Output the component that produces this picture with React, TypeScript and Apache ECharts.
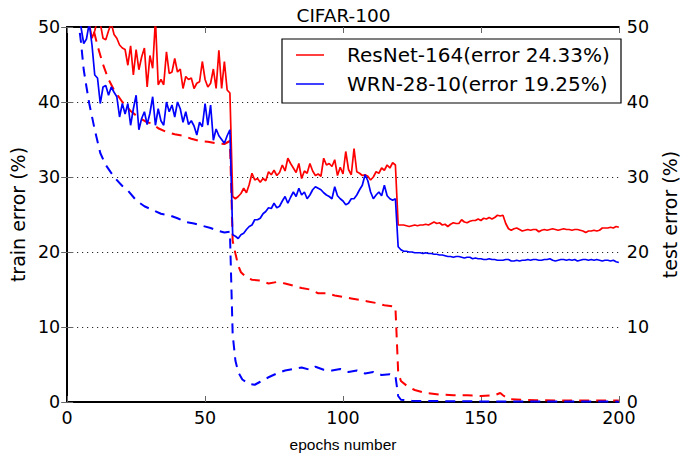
import React, { useEffect, useRef } from "react";
import * as echarts from "echarts";

const chartTitle = "CIFAR-100";
const xAxisName = "epochs number";
const leftAxisName = "train error (%)";
const rightAxisName = "test error (%)";
const legendNames = ["ResNet-164(error 24.33%)", "WRN-28-10(error 19.25%)"];

// test error per epoch (epochs 1..200)
const resnetTest = [
  62, 60, 58, 56, 54, 53, 51.5, 50.5, 48.5, 49.5,
  51, 50.5, 48.5, 48.3, 49.5, 50.5, 49, 48.5, 47.6, 47.2,
  47, 44.9, 47.5, 43.6, 47, 44.3, 46, 47.2, 42, 46.2,
  44.5, 51, 42.3, 43, 42.3, 46.7, 43.8, 44, 45.8, 44,
  44.4, 41.8, 43.4, 43, 43.2, 41.8, 42.5, 42.7, 45.4, 43,
  42, 42.5, 44.4, 41.8, 46.9, 41.8, 45.4, 41.6, 41.2, 27.4,
  27.1, 27.4, 27.8, 28.5, 27.9, 29, 30.5, 29.6, 29.8, 29.3,
  29.8, 29.5, 30.7, 30.3, 30.9, 30.2, 30.6, 31.6, 30.8, 32.5,
  31.8, 31.2, 30.6, 31.8, 29.8, 30.8, 30.5, 31.8, 30.8, 30.2,
  30.4, 30.1, 32.5, 31.6, 31.8, 31.4, 32.3, 30.2, 31.3, 30.4,
  33.4, 31, 30.3, 33.8, 30.7, 30.5, 30.2, 30.3, 30.1, 29.6,
  30.0, 30.7, 30.5, 31.2, 30.9, 31.6, 31.2, 31.9, 31.6, 23.6,
  23.6, 23.6, 23.5, 23.4, 23.5, 23.6, 23.5, 23.6, 23.6, 23.7,
  23.6, 23.8, 24.0, 23.8, 23.9, 23.6, 23.7, 23.4, 23.7, 23.9,
  23.8, 23.8, 24.3, 24.0, 23.9, 24.1, 24.2, 24.2, 24.4, 24.2,
  24.5, 24.4, 24.6, 24.4, 24.6, 24.9, 24.8, 24.9, 23.8, 23.1,
  22.9, 23.1, 23.2, 23.0, 22.8, 22.9, 23.0, 22.9, 23.0, 23.0,
  22.7, 22.9, 23.0, 22.9, 23.0, 23.1, 23.0, 22.9, 23.0, 23.1,
  23.0, 23.0, 22.9, 23.0, 23.0, 22.9, 22.8, 22.6, 22.8, 22.8,
  22.9, 22.8, 22.9, 23.2, 23.2, 23.2, 23.3, 23.2, 23.4, 23.3,
];

const wrnTest = [
  65, 60, 56, 52, 50, 47.8, 48.4, 50.5, 47.6, 43.6,
  43.2, 39.8, 42, 42.2, 40.9, 42, 41.3, 40.7, 38, 39.8,
  38.4, 39.8, 36.9, 39.1, 40.9, 36.3, 37.8, 38.7, 37, 38.5,
  40.7, 36.9, 39.1, 37.5, 36.9, 40, 38.7, 39.6, 38, 40,
  39.1, 37.3, 38.7, 37, 37.5, 36.8, 35.6, 37.3, 36.7, 39.8,
  36.9, 39.6, 34.9, 36.4, 35.5, 35, 34.5, 35.5, 36.3, 22.3,
  22.1, 21.8, 22.3, 22.5, 23.0, 23.4, 23.6, 24.3, 24.3, 24.5,
  25.1, 25.4, 25.9, 25.8, 26.5, 25.9, 26.1, 26.8, 27.4, 26.5,
  27.3, 28.0, 27.4, 28.5, 27.6, 28.0, 27.1, 27.6, 28.3, 28.7,
  28.5, 28.3, 27.9, 27.6, 27.4, 27.1, 28.7, 27.5, 27.1, 26.8,
  26.3, 26.5, 27.1, 27.1, 27.6, 28.3, 28.9, 30.3, 29.5, 28.0,
  27.1, 27.6, 28.0, 27.5, 28.9, 27.5, 27.1, 26.9, 27.1, 20.7,
  20.3, 20.1, 20.1, 20.0, 20.0, 19.9, 19.9, 19.9, 19.8, 19.9,
  19.8, 19.8, 19.7, 19.7, 19.6, 19.6, 19.5, 19.4, 19.4, 19.3,
  19.4, 19.4, 19.3, 19.2, 19.3, 19.3, 19.1, 19.2, 19.1, 19.1,
  19.0, 19.0, 19.1, 19.0, 19.0, 18.9, 18.9, 18.9, 19.0, 19.0,
  18.8, 18.8, 18.9, 18.8, 18.9, 18.9, 19.0, 18.9, 19.0, 19.0,
  18.9, 18.9, 19.0, 19.0, 19.1, 18.9, 18.8, 18.9, 19.0, 19.0,
  18.9, 19.0, 18.9, 19.0, 18.8, 18.9, 19.0, 19.0, 18.9, 19.0,
  18.9, 19.0, 18.9, 18.8, 18.9, 18.9, 18.8, 18.9, 18.7, 18.6,
];

// train error, [epoch, value]
const resnetTrain: [number, number][] = [
  [6, 56], [8, 52], [10, 49], [11, 47.5], [13, 45], [15, 43], [17, 41.6],
  [20, 40], [23, 38.8], [26, 37.9], [29, 37.3], [31, 37.1], [33, 36.5],
  [36, 36.0], [39, 35.7], [42, 35.5], [45, 35.1], [48, 34.8], [51, 34.7],
  [54, 34.5], [57, 34.4], [59, 34.8], [60, 21.5], [61, 19.8], [62, 18.2],
  [63, 17.3], [65, 16.6], [67, 16.3], [70, 16.2], [73, 15.8], [76, 16.0],
  [79, 15.8], [82, 15.5], [85, 15.2], [88, 15.0], [91, 14.5], [94, 14.5],
  [97, 14.2], [100, 14.0], [103, 13.8], [106, 13.6], [109, 13.4], [112, 13.2],
  [115, 12.9], [119, 12.7], [120, 4.0], [121, 2.8], [123, 2.2], [126, 1.6],
  [130, 1.2], [135, 1.0], [140, 0.9], [145, 0.9], [150, 0.8], [155, 0.9],
  [157, 1.2], [158, 0.9], [160, 0.4], [165, 0.3], [170, 0.25], [180, 0.2],
  [190, 0.2], [200, 0.2],
];

const wrnTrain: [number, number][] = [
  [3, 56], [4, 51], [5, 48], [6, 44.3], [7, 42], [8, 39.8], [10, 36.3],
  [12, 33.2], [14, 31.6], [17, 30.0], [20, 28.8], [22, 28.2], [25, 26.9],
  [28, 26.1], [31, 25.6], [34, 25.1], [37, 24.9], [40, 24.5], [43, 24.0],
  [46, 23.8], [49, 23.5], [52, 23.2], [55, 22.8], [57, 22.6], [59, 22.7],
  [60, 9.0], [61, 5.5], [62, 4.0], [63.5, 3.0], [66, 2.4], [68, 2.3],
  [70, 2.7], [73, 3.3], [76, 3.8], [79, 4.2], [82, 4.4], [85, 4.6],
  [88, 4.3], [90, 4.7], [93, 4.3], [96, 4.2], [99, 4.4], [102, 4.0],
  [105, 4.2], [108, 3.8], [111, 4.0], [114, 3.6], [117, 3.7], [119, 3.5],
  [120, 0.8], [121, 0.3], [125, 0.15], [150, 0.08], [200, 0.05],
];

const RED = "#ff0000";
const BLUE = "#0000ff";

export default function App() {
  const ref = useRef<HTMLDivElement>(null);
  useEffect(() => {
    if (!ref.current) return;
    const chart = echarts.init(ref.current, null, { renderer: "svg" });
    const font = "DejaVu Sans";
    const tickColor = "#666";
    const yAxisBase = {
      type: "value",
      min: 0,
      max: 50,
      interval: 10,
      axisLine: { show: true, lineStyle: { color: "#000", width: 2 } },
      axisTick: { show: true, inside: true, length: 6, lineStyle: { color: tickColor } },
      nameLocation: "middle",
      nameTextStyle: { fontFamily: font, fontSize: 19, color: "#000" },
      axisLabel: { fontFamily: font, fontSize: 17.5, color: "#000", margin: 7 },
    };
    const option: any = {
      animation: false,
      backgroundColor: "#fff",
      title: {
        text: chartTitle,
        left: "center",
        top: 1,
        textStyle: { fontFamily: font, fontSize: 18.5, fontWeight: "normal", color: "#000" },
      },
      grid: { left: 66, right: 60, top: 27, bottom: 55 },
      xAxis: [
        {
          type: "value",
          min: 0,
          max: 200,
          interval: 50,
          position: "bottom",
          name: xAxisName,
          nameLocation: "middle",
          nameGap: 34,
          nameTextStyle: { fontFamily: "Liberation Sans", fontSize: 15.5, color: "#000" },
          axisLine: { show: true, onZero: false, lineStyle: { color: "#000", width: 2 } },
          axisTick: { show: true, inside: true, length: 6, lineStyle: { color: tickColor } },
          axisLabel: { fontFamily: font, fontSize: 17.5, color: "#000", margin: 7 },
          splitLine: { show: false },
        },
        {
          type: "value",
          min: 0,
          max: 200,
          interval: 50,
          position: "top",
          axisLine: { show: true, onZero: false, lineStyle: { color: "#000", width: 2 } },
          axisTick: { show: true, inside: true, length: 6, lineStyle: { color: tickColor } },
          axisLabel: { show: false },
          splitLine: { show: false },
        },
      ],
      yAxis: [
        {
          ...yAxisBase,
          position: "left",
          name: leftAxisName,
          nameGap: 40,
          splitLine: { show: true, lineStyle: { color: "#000", type: [1, 4], width: 1 } },
        },
        {
          ...yAxisBase,
          position: "right",
          name: rightAxisName,
          nameGap: 38,
          nameRotate: 90,
          axisLabel: { fontFamily: font, fontSize: 17.5, color: "#000", margin: 8 },
          splitLine: { show: false },
        },
      ],
      series: [
        {
          type: "line",
          name: "ResNet-164 train",
          data: resnetTrain,
          showSymbol: false,
          symbol: "none",
          clip: true,
          lineStyle: { color: RED, width: 2, type: [10, 7] },
          z: 2,
        },
        {
          type: "line",
          name: "WRN-28-10 train",
          data: wrnTrain,
          showSymbol: false,
          symbol: "none",
          clip: true,
          lineStyle: { color: BLUE, width: 2, type: [10, 7] },
          z: 2,
        },
        {
          type: "line",
          name: legendNames[0],
          data: resnetTest.map((v, i) => [i + 1, v]),
          showSymbol: false,
          symbol: "none",
          clip: true,
          lineStyle: { color: RED, width: 1.7 },
          z: 3,
        },
        {
          type: "line",
          name: legendNames[1],
          data: wrnTest.map((v, i) => [i + 1, v]),
          showSymbol: false,
          symbol: "none",
          clip: true,
          lineStyle: { color: BLUE, width: 1.7 },
          z: 3,
        },
      ],
      graphic: [
        {
          type: "group",
          z: 100,
          children: [
            {
              type: "rect",
              shape: { x: 282, y: 39, width: 339, height: 64 },
              style: { fill: "#fff", stroke: "#000", lineWidth: 1.2 },
              z: 100,
            },
            {
              type: "line",
              shape: { x1: 296, y1: 55, x2: 324, y2: 55 },
              style: { stroke: RED, lineWidth: 1.5 },
              z: 101,
            },
            {
              type: "text",
              x: 347,
              y: 55,
              style: {
                text: legendNames[0],
                fontFamily: font,
                fontSize: 20,
                fill: "#000",
                verticalAlign: "middle",
              },
              z: 101,
            },
            {
              type: "line",
              shape: { x1: 296, y1: 84, x2: 324, y2: 84 },
              style: { stroke: BLUE, lineWidth: 1.5 },
              z: 101,
            },
            {
              type: "text",
              x: 347,
              y: 84,
              style: {
                text: legendNames[1],
                fontFamily: font,
                fontSize: 20,
                fill: "#000",
                verticalAlign: "middle",
              },
              z: 101,
            },
          ],
        },
      ],
    };
    chart.setOption(option);
    return () => chart.dispose();
  }, []);
  return <div ref={ref} style={{ width: 687, height: 457, position: "absolute", left: 0, top: 0 }} />;
}
